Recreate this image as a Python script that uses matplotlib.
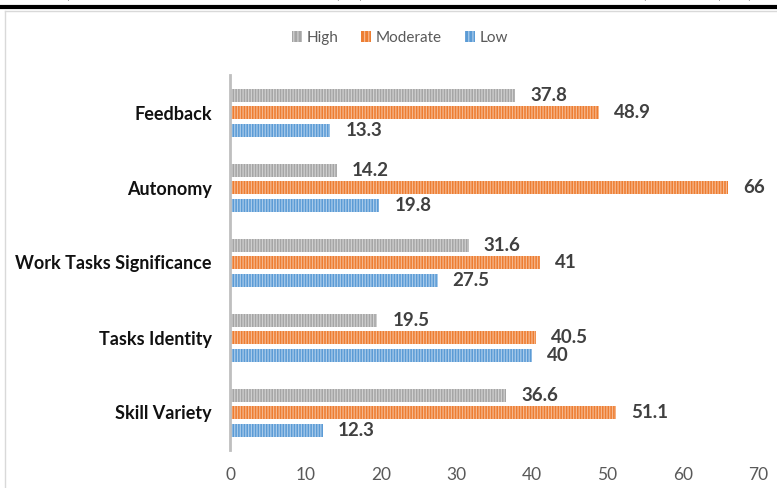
import matplotlib
matplotlib.use("Agg")
import matplotlib.pyplot as plt
from matplotlib.patches import Patch
from matplotlib.lines import Line2D
import numpy as np

plt.rcParams['font.family'] = ['Lato', 'DejaVu Sans']
plt.rcParams['hatch.linewidth'] = 0.9

categories = ["Skill Variety", "Tasks Identity", "Work Tasks Significance", "Autonomy", "Feedback"]
high = [36.6, 19.5, 31.6, 14.2, 37.8]
moderate = [51.1, 40.5, 41, 66, 48.9]
low = [12.3, 40, 27.5, 19.8, 13.3]
series_names = ["High", "Moderate", "Low"]
xticks = [0, 10, 20, 30, 40, 50, 60, 70]

face = ["#A5A5A5", "#ED7D31", "#5B9BD5"]
stripe = ["#D0D0D0", "#F6B88E", "#A9CBEB"]

W, H = 777, 488
fig = plt.figure(figsize=(W / 100, H / 100), dpi=100)
ax = fig.add_axes([230 / W, 1 - 450 / H, (758.5 - 230) / W, (450 - 75) / H])

y = np.arange(len(categories))
offsets = [0.23, 0.0, -0.235]
bh = 0.175
for vals, off, fc, sc in zip([high, moderate, low], offsets, face, stripe):
    bars = ax.barh(y + off, vals, height=bh, color=fc, edgecolor=sc, linewidth=0,
                   hatch='||||||')
    for b, v in zip(bars, vals):
        ax.annotate(f"{v:g}", (v, b.get_y() + b.get_height() / 2), xytext=(15, 0),
                    textcoords='offset pixels',
                    va='center', ha='left', fontsize=13.5, fontweight='bold',
                    color='#404040')

ax.set_xlim(0, 70)
ax.set_ylim(-0.5, 4.5)
ax.set_xticks(xticks)
ax.set_xticklabels([str(t) for t in xticks])
ax.set_yticks(y)
ax.set_yticklabels(categories, fontsize=13, fontweight='bold', color='#111111')
ax.tick_params(axis='x', length=0, pad=12, labelsize=12.5, labelcolor='#595959')
ax.tick_params(axis='y', length=0, pad=13)
for s in ['top', 'right', 'bottom']:
    ax.spines[s].set_visible(False)
ax.spines['left'].set_color('#BFBFBF')
ax.spines['left'].set_linewidth(2)

handles = [Patch(facecolor=fc, edgecolor=sc, linewidth=0, hatch='||||')
           for fc, sc in zip(face, stripe)]
fig.legend(handles, series_names, loc='center', bbox_to_anchor=(400 / W, 1 - 38 / H),
           ncol=3, frameon=False, fontsize=11, labelcolor='#595959',
           handlelength=0.65, handleheight=0.7, handletextpad=0.3, columnspacing=1.5)

# page decorations: cut-off text line, black rule, chart border
for px, ch in [(67, "("), (339, ")"), (359, "("), (646, ")"), (718, "("), (750, ")")]:
    fig.text(px / W, 1 + 1.5 / H, ch, fontsize=13, color='black', ha='center', va='baseline')
fig.add_artist(Line2D([0, 1], [1 - 7 / H, 1 - 7 / H], color='black', linewidth=3,
                      transform=fig.transFigure))
fig.add_artist(Line2D([5 / W, 1], [1 - 10.5 / H, 1 - 10.5 / H], color='#D9D9D9', linewidth=1,
                      transform=fig.transFigure))
fig.add_artist(Line2D([5 / W, 5 / W], [0, 1 - 10.5 / H], color='#D9D9D9', linewidth=1,
                      transform=fig.transFigure))

fig.savefig("out.png", dpi=100)
